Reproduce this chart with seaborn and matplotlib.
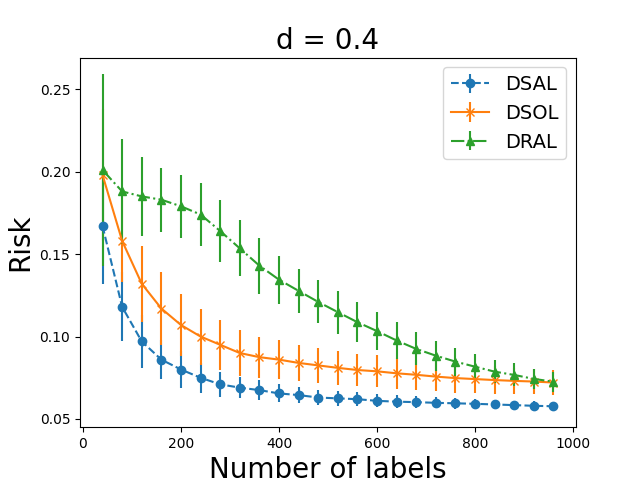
import numpy as np
import matplotlib
matplotlib.use("Agg")
import matplotlib.pyplot as plt
from matplotlib.ticker import MultipleLocator
import seaborn as sns

# number of labels
n_labels = [40, 80, 120, 160, 200, 240, 280, 320, 360, 400, 440, 480,
            520, 560, 600, 640, 680, 720, 760, 800, 840, 880, 920, 960]

dsal_mean = [0.167, 0.118, 0.097, 0.086, 0.080, 0.075, 0.071, 0.069, 0.0675, 0.0655, 0.0645, 0.063,
             0.0625, 0.062, 0.061, 0.0605, 0.0602, 0.0598, 0.0595, 0.0592, 0.0588, 0.0584, 0.058, 0.0577]
dsal_err = [0.035, 0.021, 0.016, 0.012, 0.011, 0.009, 0.0075, 0.0065, 0.006, 0.0055, 0.005, 0.0048,
            0.0045, 0.0042, 0.004, 0.0038, 0.0036, 0.0034, 0.0032, 0.003, 0.003, 0.0028, 0.0026, 0.0025]

dsol_mean = [0.198, 0.158, 0.132, 0.117, 0.107, 0.100, 0.095, 0.090, 0.0875, 0.086, 0.084, 0.0825,
             0.081, 0.0797, 0.0789, 0.0777, 0.0768, 0.0757, 0.0748, 0.0742, 0.0736, 0.0731, 0.0727, 0.0721]
dsol_err = [0.040, 0.025, 0.023, 0.022, 0.019, 0.017, 0.015, 0.014, 0.0125, 0.012, 0.011, 0.0108,
            0.0105, 0.010, 0.0098, 0.0095, 0.0092, 0.009, 0.0088, 0.0085, 0.0083, 0.008, 0.0078, 0.0076]

dral_mean = [0.201, 0.188, 0.185, 0.183, 0.179, 0.174, 0.164, 0.1535, 0.143, 0.1345, 0.1277, 0.121,
             0.1148, 0.1087, 0.1033, 0.0976, 0.0925, 0.0884, 0.0848, 0.0817, 0.0787, 0.0767, 0.0743, 0.0726]
dral_err = [0.058, 0.032, 0.024, 0.0195, 0.019, 0.019, 0.019, 0.017, 0.017, 0.0145, 0.0135, 0.013,
            0.013, 0.012, 0.0115, 0.011, 0.010, 0.009, 0.0085, 0.0075, 0.007, 0.007, 0.006, 0.006]

colors = sns.color_palette("tab10")

fig, ax = plt.subplots(figsize=(6.4, 4.8), dpi=100)

ax.errorbar(n_labels, dsal_mean, yerr=dsal_err, fmt='o--', color=colors[0], label='DSAL')
ax.errorbar(n_labels, dsol_mean, yerr=dsol_err, fmt='x-', color=colors[1], label='DSOL')
ax.errorbar(n_labels, dral_mean, yerr=dral_err, fmt='^-.', color=colors[2], label='DRAL')

ax.yaxis.set_major_locator(MultipleLocator(0.05))
ax.set_title('d = 0.4', fontsize=20)
ax.set_xlabel('Number of labels', fontsize=20)
ax.set_ylabel('Risk', fontsize=20)
ax.legend(fontsize=14)

fig.savefig('out.png', dpi=100)
